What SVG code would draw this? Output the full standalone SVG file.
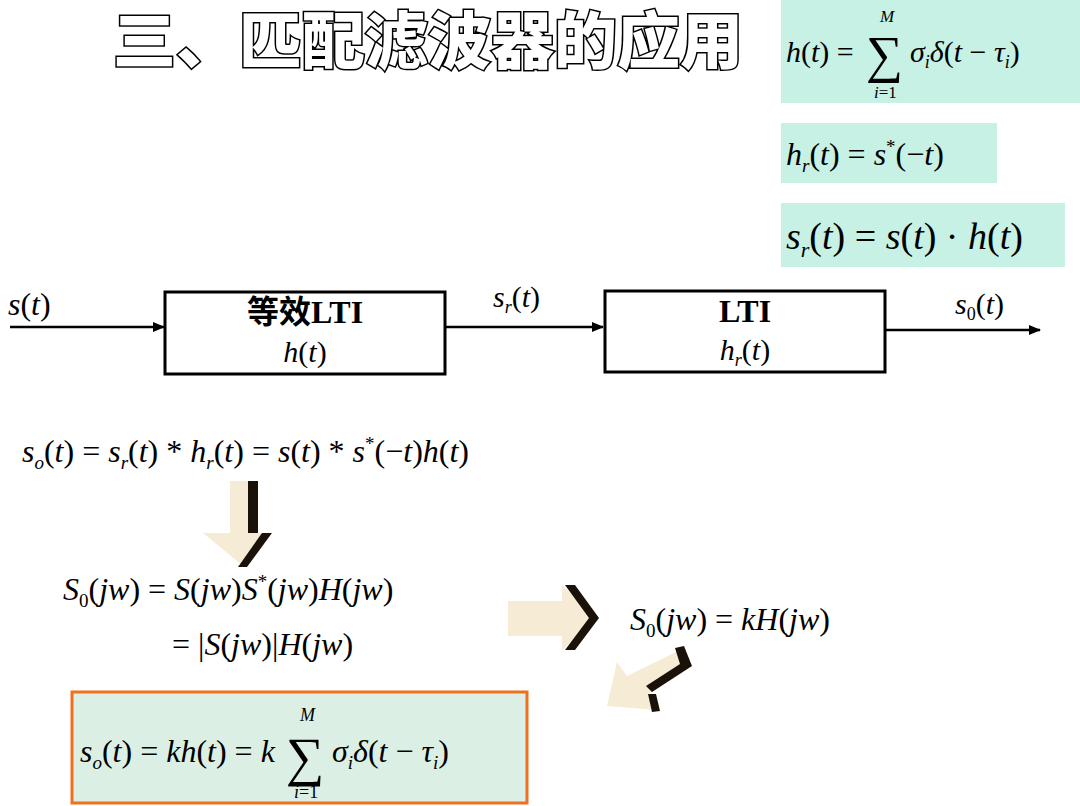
<svg xmlns="http://www.w3.org/2000/svg" width="1080" height="806" viewBox="0 0 1080 806">
<defs>
<style>
.u{font-style:normal}
.blk{fill:#fff;stroke:#000;stroke-width:3}
.ln{stroke:#000;stroke-width:2.5;fill:none}
.arw{fill:#f6ecd6}
.sh{fill:#1a1208}
</style>
<marker id="ah" viewBox="0 0 10 10" refX="9" refY="5" markerWidth="5" markerHeight="5" orient="auto"><path d="M0,1 L10,5 L0,9 Z" fill="#000"/></marker>
</defs>
<rect width="1080" height="806" fill="#fff"/>
<text x="113" y="64" font-family="Noto Sans CJK SC,sans-serif" font-weight="900" font-size="62" fill="#fff" stroke="#000" stroke-width="3" paint-order="stroke" textLength="630" lengthAdjust="spacingAndGlyphs">三、匹配滤波器的应用</text>

<g font-family="Liberation Serif, Times New Roman, serif" font-style="italic" fill="#000">
<g id="eq1"><rect x="781" y="0" width="299" height="103" fill="#c6f1e4"/>
<text x="786" y="62" font-size="30">h<tspan class="u">(</tspan>t<tspan class="u">) =</tspan></text>
<text class="u" x="866" y="72" font-size="52">∑</text>
<text x="880" y="22" font-size="17">M</text>
<text x="874" y="98" font-size="17">i<tspan class="u">=1</tspan></text>
<text x="910" y="62" font-size="30">σ<tspan font-size="18" dy="6">i</tspan><tspan dy="-6">δ</tspan><tspan class="u">(</tspan>t<tspan class="u"> − </tspan>τ<tspan font-size="18" dy="6">i</tspan><tspan class="u" dy="-6">)</tspan></text></g>
<g id="eq2"><rect x="781" y="123" width="216" height="60" fill="#c6f1e4"/>
<text x="786" y="165" font-size="32">h<tspan font-size="19" dy="7">r</tspan><tspan class="u" dy="-7">(</tspan>t<tspan class="u">) = </tspan>s<tspan class="u" font-size="19" dy="-12">*</tspan><tspan class="u" dy="12">(−</tspan>t<tspan class="u">)</tspan></text></g>
<g id="eq3"><rect x="781" y="203" width="284" height="64" fill="#c6f1e4"/>
<text x="786" y="249" font-size="38">s<tspan font-size="22" dy="8">r</tspan><tspan class="u" dy="-8">(</tspan>t<tspan class="u">) = </tspan>s<tspan class="u">(</tspan>t<tspan class="u">) · </tspan>h<tspan class="u">(</tspan>t<tspan class="u">)</tspan></text></g>

<text x="8" y="315" font-size="32">s<tspan class="u">(</tspan>t<tspan class="u">)</tspan></text>
<text x="493" y="307" font-size="30">s<tspan font-size="18" dy="6">r</tspan><tspan class="u" dy="-6">(</tspan>t<tspan class="u">)</tspan></text>
<text x="955" y="314" font-size="30">s<tspan class="u" font-size="18" dy="6">0</tspan><tspan class="u" dy="-6">(</tspan>t<tspan class="u">)</tspan></text>

<text x="22" y="462" font-size="32">s<tspan font-size="19" dy="7">o</tspan><tspan class="u" dy="-7">(</tspan>t<tspan class="u">) = </tspan>s<tspan font-size="19" dy="7">r</tspan><tspan class="u" dy="-7">(</tspan>t<tspan class="u">) * </tspan>h<tspan font-size="19" dy="7">r</tspan><tspan class="u" dy="-7">(</tspan>t<tspan class="u">) = </tspan>s<tspan class="u">(</tspan>t<tspan class="u">) * </tspan>s<tspan class="u" font-size="19" dy="-12">*</tspan><tspan class="u" dy="12">(−</tspan>t<tspan class="u">)</tspan>h<tspan class="u">(</tspan>t<tspan class="u">)</tspan></text>

<text x="63" y="600" font-size="32">S<tspan class="u" font-size="19" dy="7">0</tspan><tspan class="u" dy="-7">(</tspan>jw<tspan class="u">) = </tspan>S<tspan class="u">(</tspan>jw<tspan class="u">)</tspan>S<tspan class="u" font-size="19" dy="-12">*</tspan><tspan class="u" dy="12">(</tspan>jw<tspan class="u">)</tspan>H<tspan class="u">(</tspan>jw<tspan class="u">)</tspan></text>
<text x="172" y="655" font-size="32"><tspan class="u">= |</tspan>S<tspan class="u">(</tspan>jw<tspan class="u">)|</tspan>H<tspan class="u">(</tspan>jw<tspan class="u">)</tspan></text>
<text x="630" y="630" font-size="32">S<tspan class="u" font-size="19" dy="7">0</tspan><tspan class="u" dy="-7">(</tspan>jw<tspan class="u">) = </tspan>kH<tspan class="u">(</tspan>jw<tspan class="u">)</tspan></text>
</g>

<g id="connectors">
<line class="ln" x1="10" y1="327" x2="164" y2="327" marker-end="url(#ah)"/>
<line class="ln" x1="446" y1="327" x2="603" y2="327" marker-end="url(#ah)"/>
<line class="ln" x1="886" y1="330" x2="1040" y2="330" marker-end="url(#ah)"/>
</g>

<g id="block1"><rect class="blk" x="165" y="292" width="280" height="82"/>
<text x="305" y="323" text-anchor="middle" font-family="Liberation Serif, Noto Sans CJK SC, serif" font-weight="bold" font-size="32">等效LTI</text>
<text x="305" y="362" text-anchor="middle" font-family="Liberation Serif, serif" font-style="italic" font-size="30">h<tspan class="u">(</tspan>t<tspan class="u">)</tspan></text></g>
<g id="block2"><rect class="blk" x="605" y="291" width="280" height="81"/>
<text x="745" y="322" text-anchor="middle" font-family="Liberation Serif, serif" font-weight="bold" font-size="32">LTI</text>
<text x="745" y="360" text-anchor="middle" font-family="Liberation Serif, serif" font-style="italic" font-size="30">h<tspan font-size="18" dy="6">r</tspan><tspan class="u" dy="-6">(</tspan>t<tspan class="u">)</tspan></text></g>

<g id="arrow-down"><polygon class="arw" points="230,481 255,481 255,533 270,533 243,566 203,533 230,533"/>
<polygon class="sh" points="248,481 258,481 258,533 248,533"/><polygon class="sh" points="262,533 272,533 247,567 238,567"/></g>

<g id="arrow-right"><polygon class="arw" points="508,601 562,601 562,585 597,618 562,650 562,636 508,636"/>
<polygon class="sh" points="565,585 575,585 599,618 575,650 565,650 589,618"/></g>

<g id="arrow-diag"><polygon class="arw" points="678,651 688,668 648,694 656,710 607,706 617,662 627,676"/>
<polygon class="sh" points="675,648 684,646 692,666 652,692 646,686 680,664"/><polygon class="sh" points="648,694 656,694 660,711 652,712"/></g>

<g id="result" font-family="Liberation Serif, Times New Roman, serif" font-style="italic"><rect x="72" y="692" width="455" height="111" fill="#dcefe4" stroke="#f07020" stroke-width="3"/>
<text x="80" y="762" font-size="32">s<tspan font-size="19" dy="7">o</tspan><tspan class="u" dy="-7">(</tspan>t<tspan class="u">) = </tspan>kh<tspan class="u">(</tspan>t<tspan class="u">) = </tspan>k</text>
<text class="u" x="286" y="775" font-size="54">∑</text>
<text x="300" y="721" font-size="18">M</text>
<text x="294" y="798" font-size="18">i<tspan class="u">=1</tspan></text>
<text x="332" y="762" font-size="32">σ<tspan font-size="19" dy="7">i</tspan><tspan dy="-7">δ</tspan><tspan class="u">(</tspan>t<tspan class="u"> − </tspan>τ<tspan font-size="19" dy="7">i</tspan><tspan class="u" dy="-7">)</tspan></text></g>
</svg>
